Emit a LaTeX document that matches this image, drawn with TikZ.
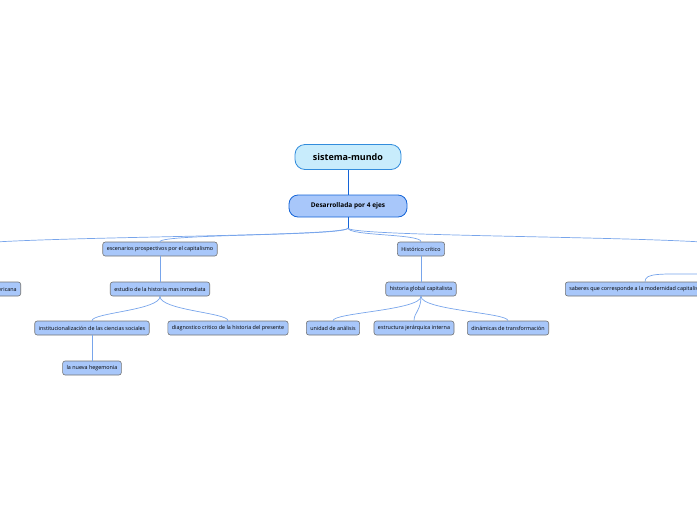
\documentclass[tikz,border=0pt]{standalone}
\usepackage{fontspec}
\setmainfont{Open Sans}
\usetikzlibrary{calc}
\begin{document}
\begin{tikzpicture}[x=1pt,y=-1pt,
 leaf/.style={draw=black!55,line width=0.6pt,fill={rgb,255:red,168;green,199;blue,250},rounded corners=2.5pt,font=\fontsize{5.4}{6}\selectfont,inner xsep=4pt,minimum height=14pt},
 conn/.style={draw={rgb,255:red,120;green,165;blue,235},line width=0.7pt}]
\useasboundingbox (0,0) rectangle (697,520);
\begin{scope}
\clip (0,0) rectangle (697,520);
\node[draw={rgb,255:red,50;green,140;blue,220},line width=0.8pt,fill={rgb,255:red,200;green,236;blue,252},rounded corners=10pt,minimum width=106pt,minimum height=25pt,font=\bfseries\fontsize{9}{10}\selectfont] (root) at (348,157) {sistema-mundo};
\node[draw={rgb,255:red,20;green,100;blue,215},line width=0.8pt,fill={rgb,255:red,168;green,199;blue,250},rounded corners=9pt,minimum width=118pt,minimum height=22pt,font=\bfseries\fontsize{6.5}{7}\selectfont] (des) at (348,206) {Desarrollada por 4 ejes};
\node[leaf,anchor=east] (lat) at (21,289) {latinoamericana};
\node[leaf] (esc) at (160,249) {escenarios prospectivos por el capitalismo};
\node[leaf] (his) at (421,249) {Histórico crítico};
\node[leaf,anchor=west] (sab) at (565,289) {saberes que corresponde a la modernidad capitalista};
\node[leaf] (est) at (160,289) {estudio de la historia mas inmediata};
\node[leaf] (hgc) at (421,289) {historia global capitalista};
\node[leaf] (ins) at (92,328) {institucionalización de las ciencias sociales};
\node[leaf] (dia) at (228,328) {diagnostico critico de la historia del presente};
\node[leaf] (uni) at (333,328) {unidad de análisis};
\node[leaf] (ejr) at (414,328) {estructura jerárquica interna};
\node[leaf] (din) at (508,328) {dinámicas de transformación};
\node[leaf] (heg) at (92,368) {la nueva hegemonia};
\coordinate (offL) at (-5,242);
\coordinate (offR) at (702,242);
\coordinate (offR2) at (702,274);
\draw[draw={rgb,255:red,20;green,100;blue,215},line width=1pt] (root.south) -- (des.north);
\draw[draw={rgb,255:red,20;green,100;blue,215},line width=1pt] (des.south) -- (348,228);
\foreach \c in {esc,his}
  \draw[conn] (348,228) .. controls (348,236) and ($(\c.north)+(0,-8)$) .. (\c.north);
\draw[conn] (348,228) .. controls (348,236) and (100,236) .. (offL);
\draw[conn] (348,228) .. controls (348,236) and (600,236) .. (offR);
\draw[conn] ($(sab.north west)+(80,0)$) .. controls ($(sab.north west)+(80,-9)$) and (660,274) .. (offR2);
\draw[conn] (esc.south) -- (est.north);
\draw[conn] (his.south) -- (hgc.north);
\foreach \c in {ins,dia}
  \draw[conn] (est.south) .. controls ($(est.south)+(0,14)$) and ($(\c.north)+(0,-8)$) .. (\c.north);
\foreach \c in {uni,ejr,din}
  \draw[conn] (hgc.south) .. controls ($(hgc.south)+(0,14)$) and ($(\c.north)+(0,-8)$) .. (\c.north);
\draw[conn] (ins.south) -- (heg.north);
\end{scope}
\end{tikzpicture}
\end{document}
